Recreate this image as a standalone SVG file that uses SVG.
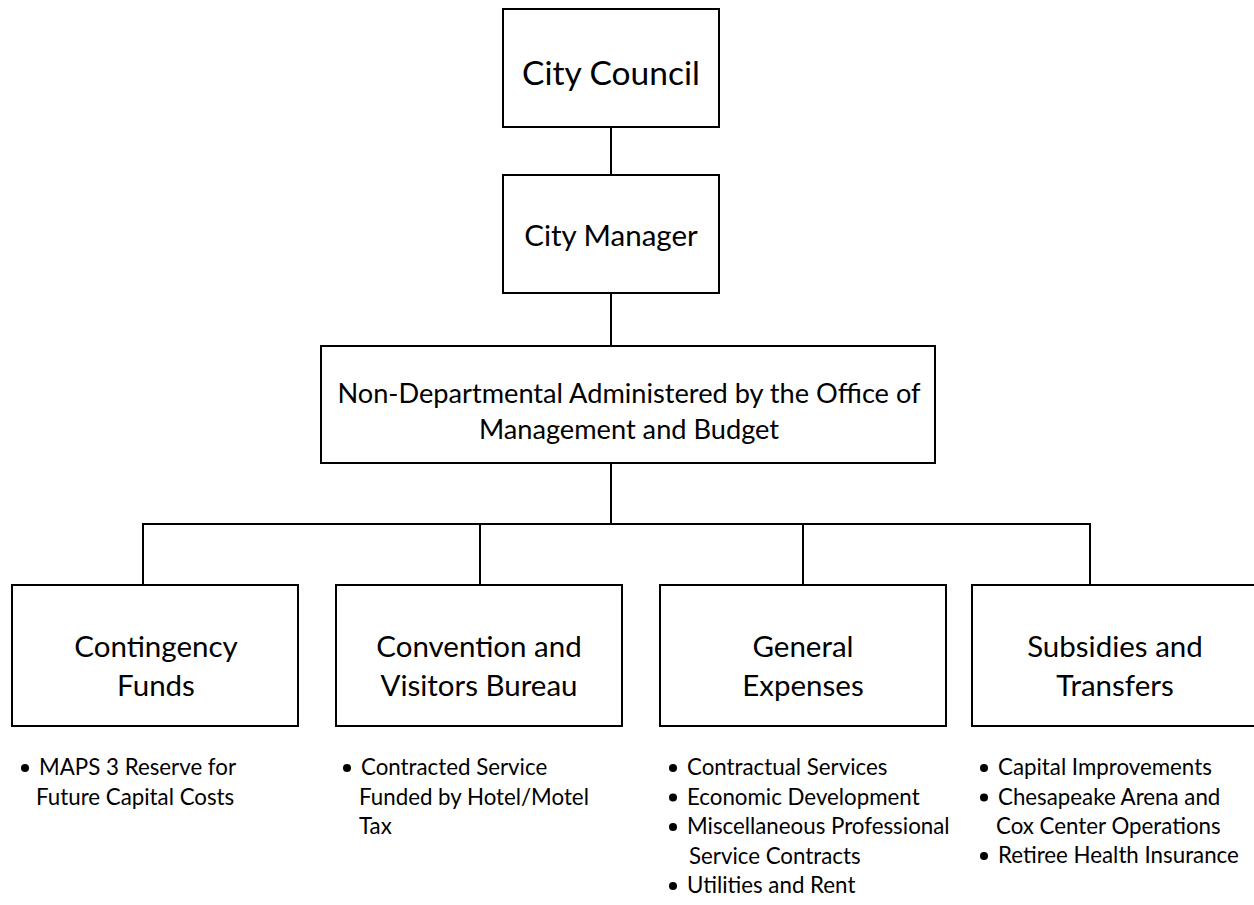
<svg xmlns="http://www.w3.org/2000/svg" width="1254" height="905" viewBox="0 0 1254 905">
  <style>
    .box { fill: #ffffff; stroke: #000000; stroke-width: 2; }
    .conn { fill: none; stroke: #000000; stroke-width: 2; }
    .t { font-family: Lato, "Noto Sans", "Liberation Sans", sans-serif; fill: #000000; }
    .title { text-anchor: middle; font-size: 29.5px; }
    .item { font-size: 22.3px; }
    .dot { fill: #000000; }
  </style>
  <rect width="1254" height="905" fill="#ffffff"/>

  <g id="connectors">
    <line class="conn" x1="611" y1="127" x2="611" y2="175"/>
    <line class="conn" x1="611" y1="293" x2="611" y2="346"/>
    <line class="conn" x1="611" y1="463" x2="611" y2="524"/>
    <polyline class="conn" points="143,585 143,524 1090,524 1090,585"/>
    <line class="conn" x1="480" y1="524" x2="480" y2="585"/>
    <line class="conn" x1="803" y1="524" x2="803" y2="585"/>
  </g>

  <g id="city-council">
    <rect class="box" x="503" y="9" width="216" height="118"/>
    <text class="t" x="611" y="85" text-anchor="middle" font-size="33.5">City Council</text>
  </g>

  <g id="city-manager">
    <rect class="box" x="503" y="175" width="216" height="118"/>
    <text class="t title" x="611" y="246">City Manager</text>
  </g>

  <g id="non-departmental">
    <rect class="box" x="321" y="346" width="614" height="117"/>
    <text class="t" x="629" y="403" text-anchor="middle" font-size="27.2">Non-Departmental Administered by the Office of</text>
    <text class="t" x="629" y="439" text-anchor="middle" font-size="27.2">Management and Budget</text>
  </g>

  <g id="contingency-funds">
    <rect class="box" x="12" y="585" width="286" height="141"/>
    <text class="t title" x="156" y="657">Contingency</text>
    <text class="t title" x="156" y="696">Funds</text>
    <circle class="dot" cx="25" cy="768" r="4"/>
    <text class="t item" x="39" y="775">MAPS 3 Reserve for</text>
    <text class="t item" x="36" y="804.5">Future Capital Costs</text>
  </g>

  <g id="convention-visitors-bureau">
    <rect class="box" x="336" y="585" width="286" height="141"/>
    <text class="t title" x="479" y="657">Convention and</text>
    <text class="t title" x="479" y="696">Visitors Bureau</text>
    <circle class="dot" cx="347" cy="768" r="4"/>
    <text class="t item" x="361" y="775">Contracted Service</text>
    <text class="t item" x="359" y="804.5">Funded by Hotel/Motel</text>
    <text class="t item" x="359" y="834">Tax</text>
  </g>

  <g id="general-expenses">
    <rect class="box" x="660" y="585" width="286" height="141"/>
    <text class="t title" x="803" y="657">General</text>
    <text class="t title" x="803" y="696">Expenses</text>
    <circle class="dot" cx="673" cy="768" r="4"/>
    <text class="t item" x="687" y="775">Contractual Services</text>
    <circle class="dot" cx="673" cy="797.5" r="4"/>
    <text class="t item" x="687" y="804.5">Economic Development</text>
    <circle class="dot" cx="673" cy="827" r="4"/>
    <text class="t item" x="687" y="834">Miscellaneous Professional</text>
    <text class="t item" x="689" y="863.5">Service Contracts</text>
    <circle class="dot" cx="673" cy="886" r="4"/>
    <text class="t item" x="687" y="893">Utilities and Rent</text>
  </g>

  <g id="subsidies-transfers">
    <rect class="box" x="972" y="585" width="290" height="141"/>
    <text class="t title" x="1115" y="657">Subsidies and</text>
    <text class="t title" x="1115" y="696">Transfers</text>
    <circle class="dot" cx="984" cy="768" r="4"/>
    <text class="t item" x="998" y="775">Capital Improvements</text>
    <circle class="dot" cx="984" cy="797.5" r="4"/>
    <text class="t item" x="998" y="804.5">Chesapeake Arena and</text>
    <text class="t item" x="996" y="834">Cox Center Operations</text>
    <circle class="dot" cx="984" cy="856" r="4"/>
    <text class="t item" x="998" y="863">Retiree Health Insurance</text>
  </g>
</svg>
